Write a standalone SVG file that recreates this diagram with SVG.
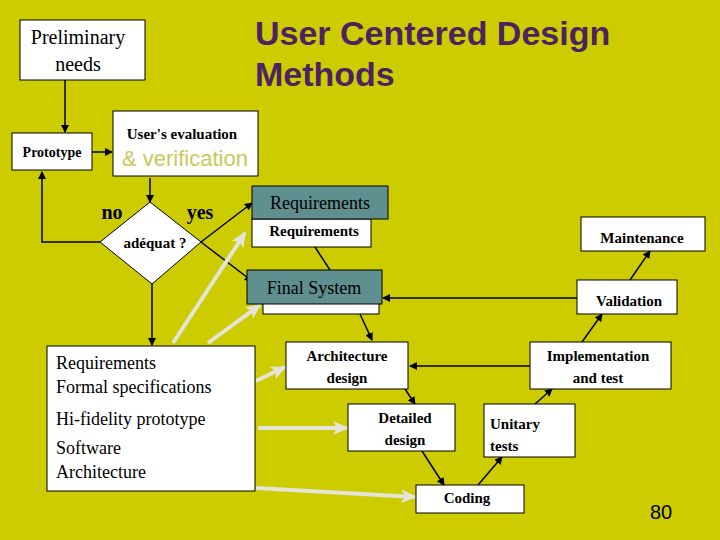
<svg xmlns="http://www.w3.org/2000/svg" width="720" height="540" viewBox="0 0 720 540">
<defs>
<style>
.b{fill:#fff;stroke:#000;stroke-width:1}
.t{fill:#5f8f8f;stroke:#000;stroke-width:1}
.s{font-family:"Liberation Serif",serif;fill:#000}
.sb{font-family:"Liberation Serif",serif;font-weight:bold;fill:#000}
.c{stroke:#000;stroke-width:1.5;fill:none;marker-end:url(#a)}
.g{stroke:#e4e4d8;stroke-width:4;fill:none;marker-end:url(#ga)}
</style>
<marker id="a" markerWidth="8" markerHeight="8" refX="7" refY="4" orient="auto" markerUnits="userSpaceOnUse"><path d="M0,0L8,4L0,8z" fill="#000"/></marker>
<marker id="ga" markerWidth="16" markerHeight="14" refX="14" refY="7" orient="auto" markerUnits="userSpaceOnUse"><path d="M0,0L16,7L0,14L4,7z" fill="#e4e4d8"/></marker>
</defs>
<rect width="720" height="540" fill="#cccc00"/>
<g id="title" font-family="Liberation Sans,Arial,sans-serif" font-weight="bold" font-size="34" fill="#4b2360">
<text x="255" y="45">User Centered Design</text><text x="255" y="86">Methods</text></g>
<g id="connectors">
<path class="c" d="M65,80V132"/>
<path class="c" d="M92,152H112"/>
<path class="c" d="M150,178V202"/>
<path class="c" d="M100,242H42V172"/>
<path class="c" d="M201,242L252,203"/>
<path class="c" d="M201,242L252,281"/>
<path class="c" d="M152,284V345"/>
<path d="M315,247L330,270" stroke="#000" stroke-width="1.5"/>
<path class="c" d="M360,314L372,340"/>
<path class="c" d="M405,389L415,404"/>
<path class="c" d="M422,451L444,485"/>
<path class="c" d="M478,485L502,457"/>
<path class="c" d="M535,404L552,389"/>
<path class="c" d="M582,342L602,314"/>
<path class="c" d="M630,280L650,251"/>
<path class="c" d="M577,298H383"/>
<path class="c" d="M530,366H410"/>
<path class="g" d="M173,343L245,233"/>
<path class="g" d="M208,343L260,305"/>
<path class="g" d="M256,381L285,367"/>
<path class="g" d="M258,428L347,428"/>
<path class="g" d="M256,488L415,497"/>
</g>
<g id="prelim"><rect class="b" x="20" y="20" width="125" height="60"/>
<text class="s" font-size="20" text-anchor="middle"><tspan x="78" y="44">Preliminary</tspan><tspan x="78" y="71">needs</tspan></text></g>
<g id="prototype"><rect class="b" x="12" y="133" width="80" height="37"/><text class="sb" x="52" y="157" font-size="14" text-anchor="middle">Prototype</text></g>
<g id="eval"><rect class="b" x="113" y="111" width="145" height="65"/>
<text class="sb" x="182" y="139" font-size="15" text-anchor="middle">User's evaluation</text>
<text x="185" y="166" font-family="Liberation Sans,Arial,sans-serif" font-size="22" fill="#c9c85a" text-anchor="middle">&amp; verification</text></g>
<g id="decision"><path d="M150,202L201,242L152,284L100,242z" fill="#fff" stroke="#000"/>
<text class="sb" x="155" y="248" font-size="15" text-anchor="middle">adéquat ?</text>
<text class="sb" x="112" y="219" font-size="20" text-anchor="middle">no</text>
<text class="sb" x="200" y="219" font-size="20" text-anchor="middle">yes</text></g>
<g id="req2"><rect class="b" x="252" y="219" width="119" height="28"/><text class="sb" x="314" y="236" font-size="15" text-anchor="middle">Requirements</text></g>
<g id="req1"><rect class="t" x="252" y="186" width="136" height="33"/><text class="s" x="320" y="209" font-size="18" text-anchor="middle">Requirements</text></g>
<g id="final2"><rect class="b" x="263" y="290" width="116" height="24"/></g>
<g id="final1"><rect class="t" x="247" y="270" width="135" height="34"/><text class="s" x="314" y="294" font-size="18" text-anchor="middle">Final System</text></g>
<g id="arch"><rect class="b" x="286" y="342" width="122" height="47"/><text class="sb" font-size="15" text-anchor="middle"><tspan x="347" y="361">Architecture</tspan><tspan x="347" y="383">design</tspan></text></g>
<g id="detailed"><rect class="b" x="348" y="404" width="107" height="47"/><text class="sb" font-size="15" text-anchor="middle"><tspan x="405" y="423">Detailed</tspan><tspan x="405" y="445">design</tspan></text></g>
<g id="coding"><rect class="b" x="416" y="485" width="108" height="28"/><text class="sb" x="467" y="503" font-size="15" text-anchor="middle">Coding</text></g>
<g id="unitary"><rect class="b" x="484" y="404" width="91" height="53"/><text class="sb" font-size="15"><tspan x="490" y="429">Unitary</tspan><tspan x="490" y="451">tests</tspan></text></g>
<g id="impl"><rect class="b" x="530" y="342" width="141" height="47"/><text class="sb" font-size="15" text-anchor="middle"><tspan x="598" y="361">Implementation</tspan><tspan x="598" y="383">and test</tspan></text></g>
<g id="validation"><rect class="b" x="577" y="280" width="100" height="34"/><text class="sb" x="629" y="306" font-size="15" text-anchor="middle">Validation</text></g>
<g id="maintenance"><rect class="b" x="581" y="217" width="124" height="34"/><text class="sb" x="642" y="243" font-size="15" text-anchor="middle">Maintenance</text></g>
<g id="left"><rect class="b" x="47" y="346" width="208" height="145"/>
<text class="s" font-size="18"><tspan x="56" y="369">Requirements</tspan><tspan x="56" y="393">Formal specifications</tspan><tspan x="56" y="425">Hi-fidelity prototype</tspan><tspan x="56" y="454">Software</tspan><tspan x="56" y="478">Architecture</tspan></text></g>
<text x="650" y="519" font-family="Liberation Sans,Arial,sans-serif" font-size="20" fill="#000">80</text>
</svg>
